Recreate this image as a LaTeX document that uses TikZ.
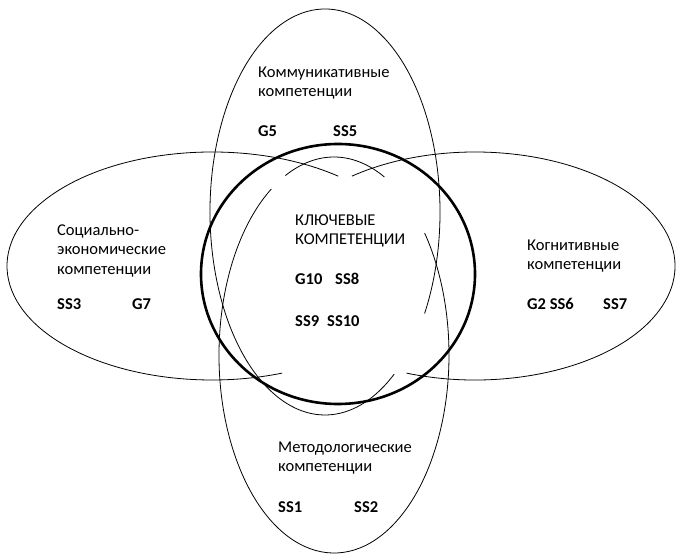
\documentclass[tikz,border=0pt]{standalone}
\usepackage{fontspec}
\setmainfont{Carlito}
\begin{document}
\begin{tikzpicture}[x=1pt, y=1pt,
    ring/.style={line width=0.8pt},
    keyring/.style={line width=2.6pt},
    lbl/.style={anchor=north west, inner sep=0pt, align=left, font=\fontsize{16.5}{19.5}\selectfont},
    code/.style={anchor=base west, inner sep=0pt, font=\fontsize{16.5}{19.5}\selectfont\bfseries}]
      \useasboundingbox (0,0) rectangle (678,559);
      %
      \draw[ring] (325,347) ++(-30:115 and 203) arc[start angle=-30, end angle=307, x radius=115, y radius=203];   % top ellipse
      %
      \draw[ring] (334,204) ++(64:115 and 198) arc[start angle=64, end angle=115, x radius=115, y radius=198];   % bottom ellipse, top piece
      \draw[ring] (334,204) ++(123:115 and 198) arc[start angle=123, end angle=398, x radius=115, y radius=198];   % bottom ellipse, rest
      %
      \draw[ring] (212,293) ++(52:205 and 114) arc[start angle=52, end angle=290, x radius=205, y radius=114];   % left ellipse
      \draw[ring] (475,293) ++(-110:200 and 114) arc[start angle=-110, end angle=128, x radius=200, y radius=114];   % right ellipse
      %
      \draw[keyring] (338,285) ellipse[x radius=137, y radius=130];   % key circle
      %
      \node[lbl] (comm) at (258,492.6) {Коммуникативные\\компетенции};
      \node[code] (g5) at (258,422) {G5};
      \node[code] (ss5) at (333,422) {SS5};
      %
      \node[lbl] (key) at (295,344.6) {КЛЮЧЕВЫЕ\\КОМПЕТЕНЦИИ};
      \node[code] (g10) at (295,274) {G10};
      \node[code] (ss8) at (335,274) {SS8};
      \node[code] (ss9) at (295,232) {SS9};
      \node[code] (ss10) at (327,232) {SS10};
      %
      \node[lbl] (soc) at (57,334.6) {Социально-\\экономические\\компетенции};
      \node[code] (ss3) at (57,249) {SS3};
      \node[code] (g7) at (132,249) {G7};
      %
      \node[lbl] (cog) at (527,319.6) {Когнитивные\\компетенции};
      \node[code] (g2) at (527,249) {G2 SS6};
      \node[code] (ss7) at (603,249) {SS7};
      %
      \node[lbl] (meth) at (278,117.6) {Методологические\\компетенции};
      \node[code] (ss1) at (278,46) {SS1};
      \node[code] (ss2) at (354,46) {SS2};
      %
    \end{tikzpicture}
\end{document}
